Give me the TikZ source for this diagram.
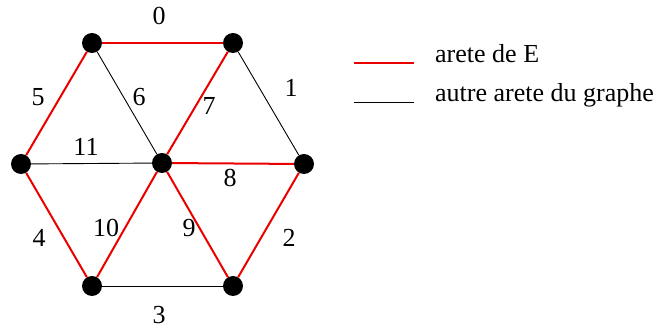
\documentclass[tikz,border=0pt]{standalone}
\usepackage{fontspec}
\setmainfont{Liberation Serif}
\newfontfamily\romain{Liberation Serif}
\usepackage{tikz}
\usetikzlibrary{positioning}
\definecolor{rouge}{RGB}{235,0,0}

\begin{document}
\begin{tikzpicture}[x=1pt,y=-1pt,
sommet/.style={circle,fill=black,inner sep=0pt,minimum size=20pt},
areteE/.style={draw=rouge,line width=2pt},
autre/.style={draw=black,line width=0.9pt},
num/.style={font=\romain\fontsize{26}{30}\selectfont,inner sep=0pt},
leg/.style={font=\romain\fontsize{26}{30}\selectfont,anchor=base west,inner sep=0pt}
]
\useasboundingbox (0,0) rectangle (662,328);

\node[sommet] (hg) at (92,43) {};
\node[sommet] (hd) at (233,43) {};
\node[sommet] (g) at (21,164) {};
\node[sommet] (c) at (162,163) {};
\node[sommet] (d) at (304,164) {};
\node[sommet] (bg) at (92,286) {};
\node[sommet] (bd) at (233,286) {};

\draw[areteE] (hg) -- (hd);
\draw[autre] (hd) -- (d);
\draw[areteE] (d) -- (bd);
\draw[autre] (bd) -- (bg);
\draw[areteE] (bg) -- (g);
\draw[areteE] (g) -- (hg);
\draw[autre] (hg) -- (c);
\draw[areteE] (c) -- (hd);
\draw[areteE] (c) -- (d);
\draw[areteE] (c) -- (bd);
\draw[areteE] (c) -- (bg);
\draw[autre] (g) -- (c);

\node[num] (n0) at (159,16) {0};
\node[num] (n1) at (291,88) {1};
\node[num] (n2) at (289,238) {2};
\node[num] (n3) at (159,315) {3};
\node[num] (n4) at (39,238) {4};
\node[num] (n5) at (38,97) {5};
\node[num] (n6) at (139,97) {6};
\node[num] (n7) at (209,106) {7};
\node[num] (n8) at (230,178) {8};
\node[num] (n9) at (189,228) {9};
\node[num] (n10) at (106,228) {10};
\node[num] (n11) at (86,147) {11};

% legende
\coordinate (l1a) at (354,63);
\coordinate (l1b) at (414,63);
\coordinate (l2a) at (354,102);
\coordinate (l2b) at (414,102);
\draw[areteE] (l1a) -- (l1b);
\draw[autre] (l2a) -- (l2b);
\node[leg] (t1) at (435,63) {arete de E};
\node[leg] (t2) at (435,102) {autre arete du graphe};
\end{tikzpicture}
\end{document}
